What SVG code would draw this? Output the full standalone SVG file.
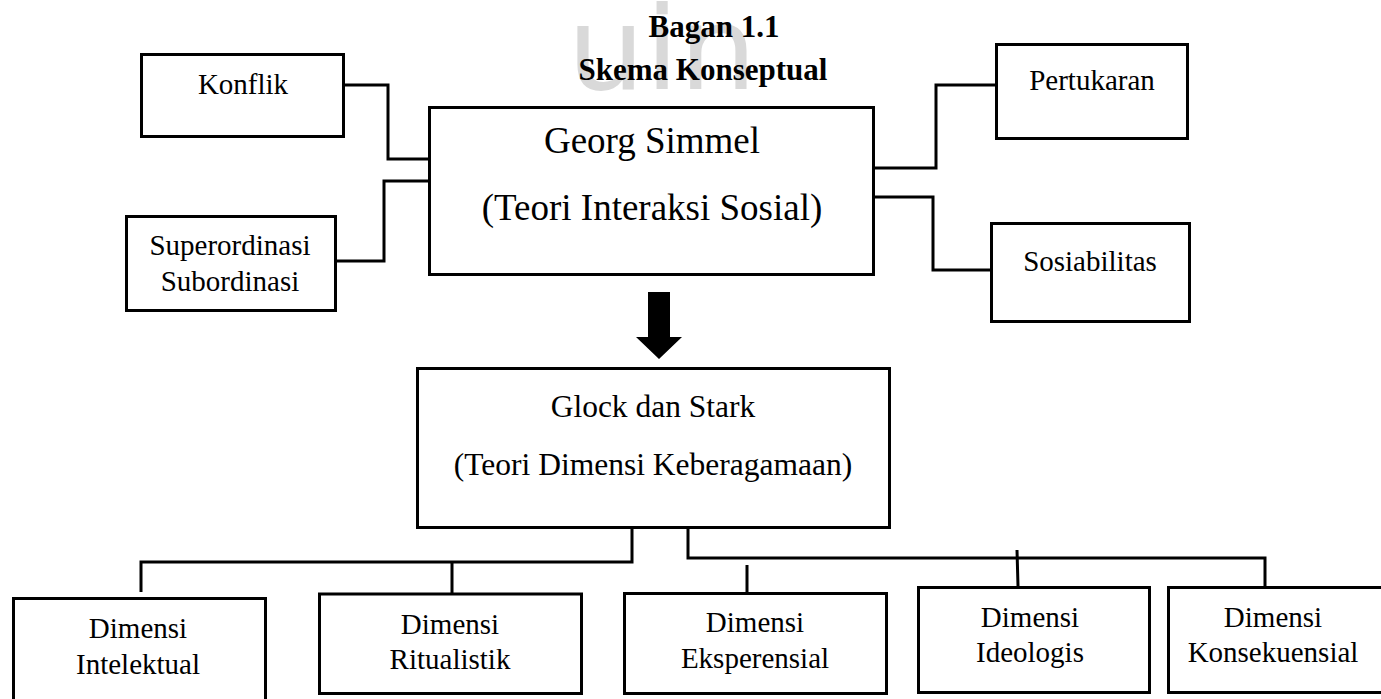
<svg xmlns="http://www.w3.org/2000/svg" width="1381" height="699" viewBox="0 0 1381 699">
<style>
.box{fill:#fff;stroke:#000;stroke-width:3}
.ln{fill:none;stroke:#000;stroke-width:3;stroke-linejoin:miter}
.t{font-family:"Liberation Serif","Times New Roman",serif;fill:#000;text-anchor:middle}
.s29{font-size:29px}
.wm{font-family:"DejaVu Sans",sans-serif;font-size:115px;fill:#d9d9d9}
</style>
<rect width="1381" height="699" fill="#fff"/>
<text class="wm" x="567" y="89" textLength="190" lengthAdjust="spacingAndGlyphs">uin</text>
<g id="title">
<text class="t" x="714" y="37" font-size="31" font-weight="bold">Bagan 1.1</text>
<text class="t" x="703" y="80" font-size="31" font-weight="bold">Skema Konseptual</text>
</g>
<g id="connectors">
<path class="ln" d="M344 85H388V159H429"/>
<path class="ln" d="M336 261H384V181H429"/>
<path class="ln" d="M875 168H936V85H996"/>
<path class="ln" d="M875 197H933V270H991"/>
<path class="ln" d="M632 528V562H141V592M452 562V594"/>
<path class="ln" d="M688 528V558H1265V587"/>
<path class="ln" d="M747 565V593M1017 550L1018 586"/>
<polygon points="648,292 670,292 670,337 682,337 659,359 636,337 648,337" fill="#000"/>
</g>
<g id="konflik">
<rect class="box" x="141.5" y="54.5" width="202" height="82"/>
<text class="t s29" x="243" y="94">Konflik</text>
</g>
<g id="superordinasi">
<rect class="box" x="126.5" y="216.5" width="209" height="94"/>
<text class="t s29" x="230" y="255">Superordinasi</text>
<text class="t s29" x="230" y="291">Subordinasi</text>
</g>
<g id="simmel">
<rect class="box" x="429.5" y="107.5" width="444" height="167"/>
<text class="t" x="652" y="153" font-size="37">Georg Simmel</text>
<text class="t" x="652" y="220" font-size="37">(Teori Interaksi Sosial)</text>
</g>
<g id="pertukaran">
<rect class="box" x="996.5" y="44.5" width="191" height="94"/>
<text class="t s29" x="1092" y="90">Pertukaran</text>
</g>
<g id="sosiabilitas">
<rect class="box" x="991.5" y="223.5" width="198" height="98"/>
<text class="t s29" x="1090" y="271">Sosiabilitas</text>
</g>
<g id="glock">
<rect class="box" x="417.5" y="368.5" width="472" height="159"/>
<text class="t" x="653" y="417" font-size="31.5">Glock dan Stark</text>
<text class="t" x="653" y="475" font-size="31.5">(Teori Dimensi Keberagamaan)</text>
</g>
<g id="intelektual">
<rect class="box" x="13.5" y="598.5" width="252" height="120"/>
<text class="t s29" x="138" y="638">Dimensi</text>
<text class="t s29" x="138" y="674">Intelektual</text>
</g>
<g id="ritualistik">
<rect class="box" x="319.5" y="594" width="262" height="99.5"/>
<text class="t s29" x="450" y="634">Dimensi</text>
<text class="t s29" x="450" y="669">Ritualistik</text>
</g>
<g id="eksperensial">
<rect class="box" x="624.5" y="593.5" width="262" height="100"/>
<text class="t s29" x="755" y="632">Dimensi</text>
<text class="t s29" x="755" y="668">Eksperensial</text>
</g>
<g id="ideologis">
<rect class="box" x="918.5" y="587.5" width="231" height="105"/>
<text class="t s29" x="1030" y="627">Dimensi</text>
<text class="t s29" x="1030" y="662">Ideologis</text>
</g>
<g id="konsekuensial">
<rect class="box" x="1168.5" y="587.5" width="230" height="105"/>
<text class="t s29" x="1273" y="627">Dimensi</text>
<text class="t s29" x="1273" y="662">Konsekuensial</text>
</g>
</svg>
